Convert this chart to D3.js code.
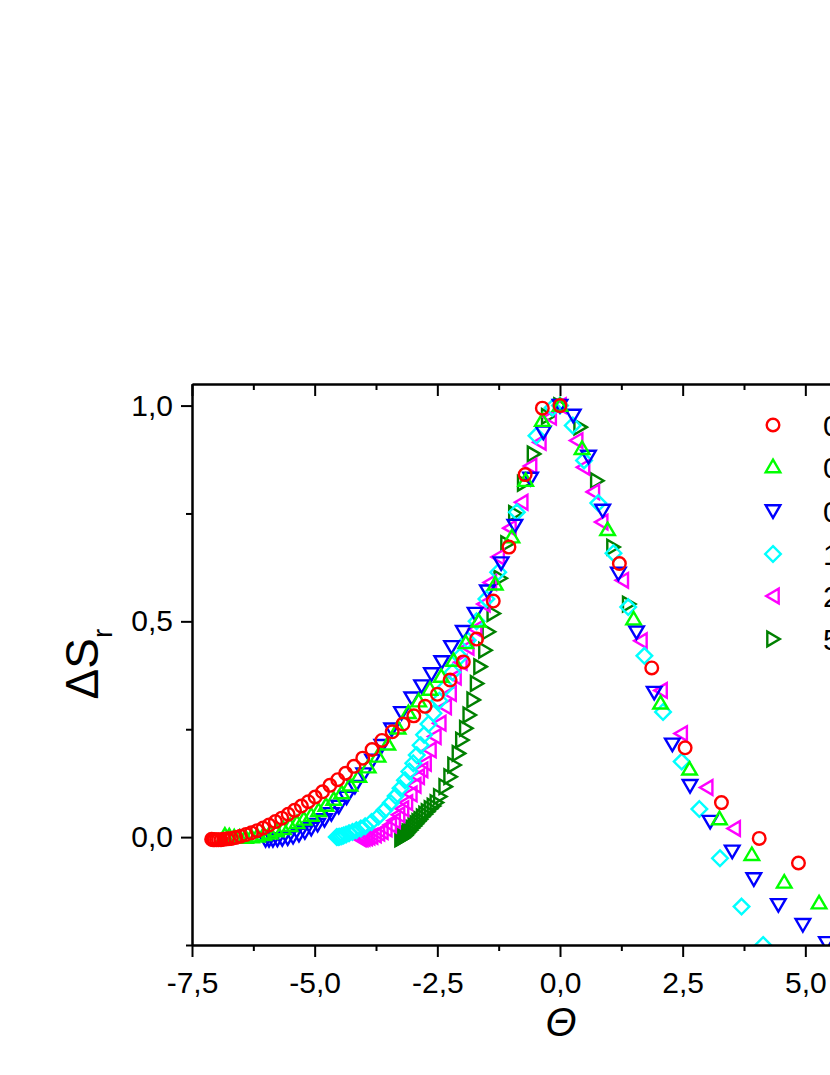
<!DOCTYPE html>
<html><head><meta charset="utf-8">
<script src="https://cdn.jsdelivr.net/npm/d3@7"></script>
<style>body{margin:0;background:#fff}svg{display:block}</style>
</head><body>
<script>
// ---------- data ----------
const xTicks = [-7.5, -5.0, -2.5, 0.0, 2.5, 5.0, 7.5];
const xMinor = [-6.25, -3.75, -1.25, 1.25, 3.75, 6.25];
const yTicks = [0.0, 0.5, 1.0];
const yMinor = [-0.25, 0.25, 0.75];
const seriesNames = ["0,1 T", "0,2 T", "0,5 T", "1 T", "2 T", "5 T"];
const seriesColors = ["#ff0000", "#00ff00", "#0000ff", "#00ffff", "#ff00ff", "#008000"];
const seriesShapes = ["circle", "up", "down", "diamond", "left", "right"];

const red = [[-7.10,-0.005],[-7.07,-0.006],[-7.04,-0.006],[-7.00,-0.006],[-6.96,-0.006],[-6.91,-0.006],[-6.85,-0.005],[-6.78,-0.004],[-6.70,-0.003],[-6.61,-0.001],[-6.51,0.002],[-6.40,0.006],[-6.29,0.010],[-6.17,0.015],[-6.05,0.021],[-5.93,0.028],[-5.80,0.036],[-5.67,0.044],[-5.54,0.053],[-5.41,0.062],[-5.27,0.072],[-5.13,0.082],[-4.99,0.093],[-4.84,0.105],[-4.69,0.120],[-4.53,0.133],[-4.37,0.148],[-4.20,0.164],[-4.02,0.183],[-3.83,0.203],[-3.63,0.224],[-3.42,0.244],[-3.20,0.262],[-2.98,0.281],[-2.75,0.303],[-2.50,0.331],[-2.24,0.364],[-1.97,0.406],[-1.70,0.459],[-1.36,0.547],[-1.04,0.672],[-0.71,0.840],[-0.36,0.994],[0,1.0],[1.21,0.634],[1.87,0.392],[2.55,0.207],[3.29,0.080],[4.06,-0.003],[4.86,-0.060],[5.68,-0.105]];

const green = [[-6.83,0.004],[-6.74,0.002],[-6.64,0.000],[-6.53,-0.001],[-6.41,-0.001],[-6.29,0.000],[-6.17,0.002],[-6.04,0.005],[-5.91,0.009],[-5.78,0.014],[-5.64,0.019],[-5.50,0.026],[-5.36,0.033],[-5.22,0.041],[-5.07,0.050],[-4.92,0.061],[-4.77,0.073],[-4.61,0.087],[-4.45,0.102],[-4.28,0.120],[-4.10,0.140],[-3.91,0.162],[-3.71,0.187],[-3.51,0.215],[-3.30,0.252],[-3.09,0.288],[-2.88,0.315],[-2.65,0.342],[-2.42,0.372],[-2.17,0.409],[-1.92,0.450],[-1.66,0.500],[-1.32,0.586],[-0.98,0.695],[-0.70,0.826],[-0.36,0.965],[0,1.0],[0.45,0.900],[0.97,0.712],[1.50,0.505],[2.05,0.310],[2.64,0.157],[3.25,0.042],[3.91,-0.041],[4.57,-0.105],[5.28,-0.153],[5.98,-0.200]];

const blue = [[-6.00,-0.006],[-5.93,-0.006],[-5.85,-0.006],[-5.76,-0.005],[-5.66,-0.004],[-5.55,-0.002],[-5.44,0.001],[-5.32,0.006],[-5.20,0.012],[-5.07,0.020],[-4.94,0.029],[-4.80,0.040],[-4.66,0.054],[-4.51,0.071],[-4.35,0.092],[-4.18,0.117],[-4.00,0.146],[-3.82,0.178],[-3.63,0.212],[-3.43,0.250],[-3.23,0.288],[-3.02,0.322],[-2.82,0.350],[-2.62,0.378],[-2.41,0.406],[-2.21,0.441],[-1.97,0.476],[-1.73,0.518],[-1.48,0.570],[-1.20,0.635],[-0.92,0.722],[-0.60,0.831],[-0.34,0.938],[0,1.0],[0.27,0.977],[0.58,0.882],[0.87,0.757],[1.19,0.611],[1.56,0.475],[1.92,0.335],[2.29,0.215],[2.65,0.119],[3.06,0.036],[3.51,-0.033],[3.95,-0.097],[4.45,-0.157],[4.95,-0.203],[5.43,-0.245],[5.95,-0.290]];

const cyan = [[-4.55,0.000],[-4.52,0.000],[-4.49,0.001],[-4.45,0.002],[-4.41,0.004],[-4.36,0.006],[-4.30,0.009],[-4.23,0.012],[-4.15,0.016],[-4.06,0.020],[-3.97,0.025],[-3.84,0.035],[-3.70,0.048],[-3.58,0.062],[-3.45,0.079],[-3.35,0.095],[-3.25,0.113],[-3.16,0.132],[-3.07,0.152],[-2.99,0.171],[-2.92,0.190],[-2.84,0.213],[-2.77,0.237],[-2.68,0.262],[-2.58,0.287],[-2.46,0.316],[-2.33,0.348],[-2.19,0.382],[-2.04,0.418],[-1.88,0.456],[-1.70,0.500],[-1.50,0.552],[-1.26,0.614],[-0.88,0.753],[-0.48,0.930],[-0.15,0.995],[0,1.0],[0.26,0.954],[0.49,0.873],[0.78,0.774],[1.09,0.658],[1.39,0.533],[1.72,0.420],[2.10,0.290],[2.48,0.175],[2.84,0.065],[3.26,-0.049],[3.70,-0.161],[4.14,-0.250],[4.60,-0.330]];

const magenta = [[-4.08,-0.004],[-4.04,-0.004],[-4.00,-0.003],[-3.95,-0.002],[-3.90,0.000],[-3.84,0.002],[-3.77,0.005],[-3.70,0.009],[-3.63,0.013],[-3.55,0.019],[-3.46,0.028],[-3.38,0.038],[-3.29,0.052],[-3.21,0.066],[-3.13,0.080],[-3.04,0.100],[-2.96,0.120],[-2.89,0.140],[-2.82,0.156],[-2.75,0.171],[-2.65,0.202],[-2.55,0.233],[-2.45,0.264],[-2.34,0.302],[-2.24,0.333],[-2.14,0.371],[-2.02,0.405],[-1.88,0.440],[-1.72,0.482],[-1.55,0.540],[-1.42,0.590],[-1.26,0.649],[-1.02,0.716],[-0.78,0.776],[-0.60,0.860],[-0.41,0.915],[-0.20,0.973],[0,1.0],[0.34,0.919],[0.48,0.857],[0.68,0.800],[0.85,0.730],[1.27,0.595],[1.65,0.455],[2.06,0.340],[2.47,0.240],[2.99,0.115],[3.55,0.020]];

const dkgreen = [[-3.24,-0.004],[-3.21,-0.002],[-3.18,0.001],[-3.15,0.004],[-3.12,0.008],[-3.09,0.012],[-3.05,0.016],[-3.01,0.021],[-2.97,0.026],[-2.93,0.031],[-2.89,0.036],[-2.85,0.041],[-2.80,0.047],[-2.75,0.053],[-2.70,0.059],[-2.64,0.066],[-2.58,0.072],[-2.52,0.080],[-2.45,0.094],[-2.34,0.117],[-2.24,0.140],[-2.16,0.167],[-2.07,0.194],[-2.00,0.225],[-1.92,0.252],[-1.85,0.283],[-1.77,0.318],[-1.70,0.356],[-1.63,0.395],[-1.53,0.433],[-1.46,0.476],[-1.36,0.518],[-1.22,0.600],[-1.08,0.680],[-0.92,0.750],[-0.74,0.820],[-0.54,0.888],[-0.25,0.975],[0,1.0],[0.41,0.950],[0.75,0.826],[1.08,0.672],[1.40,0.540]];

const allSeries = [red, green, blue, cyan, magenta, dkgreen];

// ---------- layout ----------
const W = 830, H = 1075;
const svg = d3.select("body").append("svg").attr("width", W).attr("height", H);
svg.append("rect").attr("width", W).attr("height", H).attr("fill", "#fff");

const x = d3.scaleLinear().domain([-7.5, 7.5]).range([192, 928]);
const y = d3.scaleLinear().domain([-0.25, 1.05]).range([945, 384]);
const FONT = "'Liberation Sans', Arial, Helvetica, sans-serif";
const fmt = v => v.toFixed(1).replace(".", ",");

const shapes = {
  circle: null,
  up: "M0,-7.3L7.3,5.2L-7.3,5.2Z",
  down: "M0,6.8L7.3,-5.7L-7.3,-5.7Z",
  diamond: "M0,-7.8L7.8,0L0,7.8L-7.8,0Z",
  left: "M-6.8,0L5.7,-7.3L5.7,7.3Z",
  right: "M6.8,0L-5.7,-7.3L-5.7,7.3Z"
};

function drawMarker(g, shape, color, cx, cy) {
  if (shape === "circle") {
    g.append("circle").attr("cx", cx).attr("cy", cy).attr("r", 6.3)
      .attr("fill", "none").attr("stroke", color).attr("stroke-width", 2.4);
  } else {
    g.append("path").attr("d", shapes[shape]).attr("transform", `translate(${cx},${cy})`)
      .attr("fill", "none").attr("stroke", color).attr("stroke-width", 2.4)
      .attr("stroke-linejoin", "miter");
  }
}

// clip
svg.append("clipPath").attr("id", "plotclip").append("rect")
  .attr("x", 192).attr("y", 384).attr("width", 736).attr("height", 561);

const pts = svg.append("g").attr("clip-path", "url(#plotclip)");
for (let i = allSeries.length - 1; i >= 0; i--) {
  const g = pts.append("g");
  allSeries[i].forEach(d => drawMarker(g, seriesShapes[i], seriesColors[i], x(d[0]), y(d[1])));
}

// ---------- axes ----------
function styleAxis(g) {
  g.selectAll("path.domain").attr("stroke", "#000").attr("stroke-width", 2);
  g.selectAll(".tick line").attr("stroke", "#000").attr("stroke-width", 2);
  g.selectAll(".tick text").attr("font-family", FONT).attr("font-size", 30).attr("fill", "#000");
}

// bottom
const gb = svg.append("g").attr("transform", "translate(0,945)")
  .call(d3.axisBottom(x).tickValues(xTicks.slice(0, 6)).tickSize(12).tickSizeOuter(0).tickPadding(15).tickFormat(fmt));
styleAxis(gb);
const gbm = svg.append("g").attr("transform", "translate(0,945)")
  .call(d3.axisBottom(x).tickValues(xMinor).tickSize(6).tickSizeOuter(0).tickFormat(""));
styleAxis(gbm);

// top (inward ticks)
const gt = svg.append("g").attr("transform", "translate(0,384)")
  .call(d3.axisTop(x).tickValues(xTicks).tickSize(-12).tickSizeOuter(0).tickFormat(""));
styleAxis(gt);
const gtm = svg.append("g").attr("transform", "translate(0,384)")
  .call(d3.axisTop(x).tickValues(xMinor).tickSize(-6).tickSizeOuter(0).tickFormat(""));
styleAxis(gtm);

// left
const gl = svg.append("g").attr("transform", "translate(192,0)")
  .call(d3.axisLeft(y).tickValues(yTicks).tickSize(11).tickSizeOuter(0).tickPadding(8).tickFormat(fmt));
styleAxis(gl);
const glm = svg.append("g").attr("transform", "translate(192,0)")
  .call(d3.axisLeft(y).tickValues(yMinor).tickSize(6).tickSizeOuter(0).tickFormat(""));
styleAxis(glm);

// right
const gr = svg.append("g").attr("transform", "translate(928,0)")
  .call(d3.axisRight(y).tickValues(yTicks).tickSize(-11).tickSizeOuter(0).tickFormat(""));
styleAxis(gr);

// ---------- titles ----------
svg.append("text").attr("x", 561).attr("y", 1036).attr("text-anchor", "middle")
  .attr("font-family", FONT).attr("font-style", "italic").attr("font-size", 40).text("Θ");

const yt = svg.append("text").attr("transform", "translate(98,664) rotate(-90)")
  .attr("text-anchor", "middle").attr("font-family", FONT).attr("font-size", 46);
yt.append("tspan").text("ΔS");
yt.append("tspan").attr("font-size", 28).attr("dy", 14).text("r");

// ---------- legend ----------
const legY = [425, 467, 511, 554, 596, 639];
seriesNames.forEach((name, i) => {
  const g = svg.append("g");
  drawMarker(g, seriesShapes[i], seriesColors[i], 773, legY[i]);
  g.append("text").attr("x", 823).attr("y", legY[i] + 11).attr("font-family", FONT)
    .attr("font-size", 30).text(name);
});
</script>
</body></html>
